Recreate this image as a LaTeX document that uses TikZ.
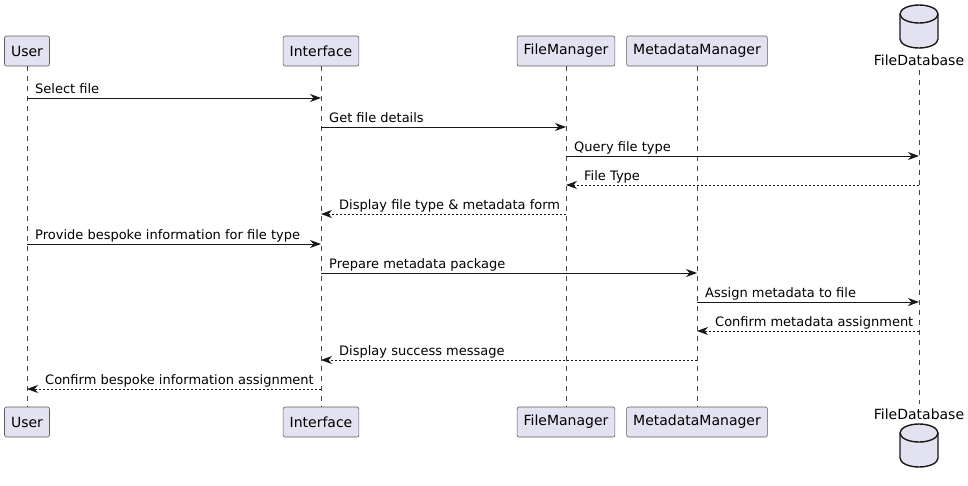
\documentclass[tikz,border=0pt]{standalone}
\usepackage{fontspec}
\setmainfont{DejaVu Sans}
\usepackage{tikz}
\usetikzlibrary{arrows.meta}

\definecolor{boxfill}{HTML}{E2E2F0}
\definecolor{inkline}{HTML}{181818}

% database drum: centre x, top y
\newcommand{\dbdrum}[2]{%
  \filldraw[draw=inkline,fill=boxfill,line width=1.4pt]
    (#1-19,#2+9) -- (#1-19,#2+34) arc (180:0:19 and 9) -- (#1+19,#2+9)
    arc (0:-180:19 and 9) -- cycle;
  \draw[inkline,line width=1.4pt] (#1-19,#2+9) arc (180:0:19 and 9);}

\tikzset{
  partbox/.style={draw=inkline!70, fill=boxfill, rounded corners=2pt, line width=0.6pt,
    minimum height=30pt, inner xsep=6.5pt, font=\fontsize{14}{16}\selectfont},
  dblabel/.style={inner sep=0pt, font=\fontsize{14}{16}\selectfont},
  lifeline/.style={inkline!80, line width=0.5pt, dash pattern=on 5pt off 5pt},
  msg/.style={-{Stealth[length=11pt,width=8pt,inset=3.5pt]}, inkline, line width=0.8pt},
  reply/.style={msg, dash pattern=on 2pt off 2pt},
  msglabel/.style={font=\fontsize{13}{15}\selectfont, inner sep=0pt, anchor=base west}
}

\begin{document}
\begin{tikzpicture}[x=1pt,y=-1pt]
    \useasboundingbox (0,0) rectangle (968,485);

    % participants, top and bottom
    \node[partbox] (userT)  at (27,51)  {User};
    \node[partbox] (ifaceT) at (321,51) {Interface};
    \node[partbox] (fmT)    at (566,51) {FileManager};
    \node[partbox] (mmT)    at (697,51) {MetadataManager};
    \node[partbox] (userB)  at (27,422)  {User};
    \node[partbox] (ifaceB) at (321,422) {Interface};
    \node[partbox] (fmB)    at (566,422) {FileManager};
    \node[partbox] (mmB)    at (697,422) {MetadataManager};

    \dbdrum{919}{5}
    \node[dblabel] (dbT) at (919,60)  {FileDatabase};
    \dbdrum{919}{424}
    \node[dblabel] (dbB) at (919,414) {FileDatabase};

    % lifelines
    \foreach \top/\bot in {userT/userB, ifaceT/ifaceB, fmT/fmB, mmT/mmB}
        \draw[lifeline] (\top.south) -- (\bot.north);
    \draw[lifeline] ([yshift=-4pt]dbT.south) -- ([yshift=4pt]dbB.north);

    % calls
    \foreach \yy/\src/\dst/\txt in {98/userT/ifaceT/Select file,
        127/ifaceT/fmT/Get file details,
        156/fmT/dbT/Query file type,
        244/userT/ifaceT/Provide bespoke information for file type,
        273/ifaceT/mmT/Prepare metadata package,
        302/mmT/dbT/Assign metadata to file}
    {
        \draw[msg] (\src |- 0,\yy) -- (\dst |- 0,\yy);
        \node[msglabel] at ([shift={(8,-5)}]\src |- 0,\yy) {\txt};
    }

    % replies
    \foreach \yy/\src/\dst/\txt in {185/dbT/fmT/File Type,
        214/fmT/ifaceT/Display file type \& metadata form,
        331/dbT/mmT/Confirm metadata assignment,
        360/mmT/ifaceT/Display success message,
        389/ifaceT/userT/Confirm bespoke information assignment}
    {
        \draw[reply] (\src |- 0,\yy) -- (\dst |- 0,\yy);
        \node[msglabel] at ([shift={(18,-5)}]\dst |- 0,\yy) {\txt};
    }
\end{tikzpicture}
\end{document}
